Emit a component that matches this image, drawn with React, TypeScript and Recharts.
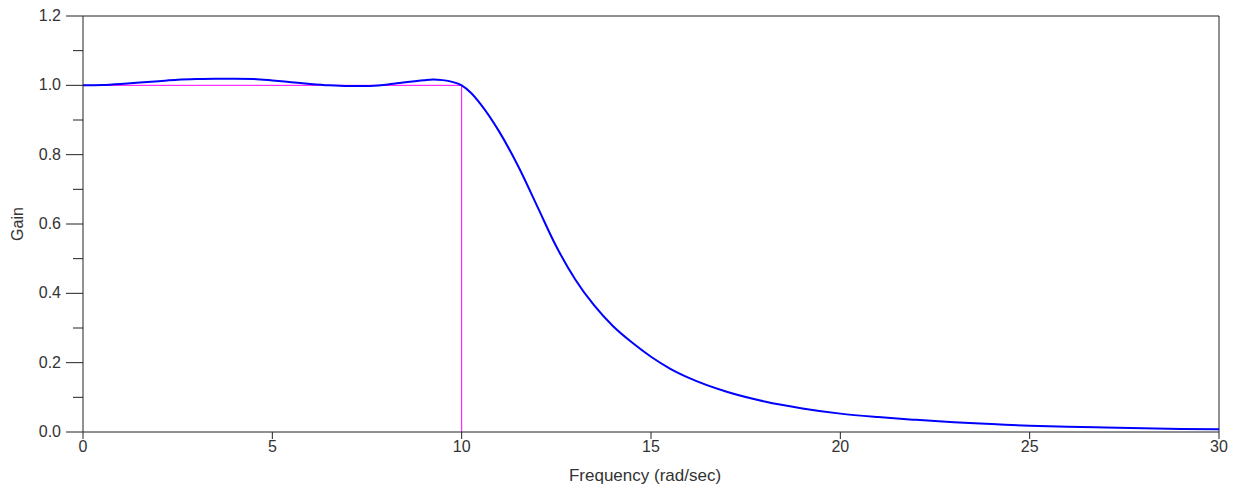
import { LineChart, Line, XAxis, YAxis, ReferenceLine } from 'recharts';

// frequency (rad/sec) and gain
const freq = [
  0, 0.5, 1, 1.5, 2, 2.5, 3, 3.5, 4, 4.5, 5, 5.5, 6, 6.5, 7, 7.5, 8, 8.5, 9, 9.25, 9.5, 9.75,
  10, 10.25, 10.5, 11, 11.5, 12, 12.5, 13, 13.5, 14, 14.5, 15, 15.5, 16, 17, 18, 19, 20,
  21, 22, 23, 24, 25, 26, 27, 28, 29, 30,
];
const gain = [
  1.0, 1.001, 1.004, 1.008, 1.012, 1.016, 1.018, 1.019, 1.019, 1.018, 1.014, 1.009,
  1.004, 1.0, 0.998, 0.998, 1.002, 1.009, 1.015, 1.017, 1.015, 1.01,
  1.0, 0.978, 0.946, 0.865, 0.765, 0.65, 0.535, 0.44, 0.365, 0.305, 0.258, 0.217, 0.183,
  0.156, 0.116, 0.088, 0.068, 0.053, 0.043, 0.035, 0.028, 0.023, 0.018, 0.015,
  0.013, 0.011, 0.009, 0.008,
];

// ideal cutoff marker
const idealFreq = [0, 10, 10];
const idealGain = [1, 1, 0];

const xTicks = [0, 5, 10, 15, 20, 25, 30];
const yTicks = [0, 0.1, 0.2, 0.3, 0.4, 0.5, 0.6, 0.7, 0.8, 0.9, 1.0, 1.1, 1.2];

const response = freq.map((f, i) => ({ f, g: gain[i] }));
const ideal = idealFreq.map((f, i) => ({ f, g: idealGain[i] }));

const font = '"Liberation Sans", Arial, sans-serif';

const YTick = (props: any) => {
  const { x, y, payload } = props;
  const v = payload.value as number;
  const major = Math.round(v * 10) % 2 === 0;
  return (
    <g>
      <line x1={x} x2={x - (major ? 17 : 10)} y1={y} y2={y} stroke="#222" />
      {major && (
        <text x={x - 22} y={y} dy={5} textAnchor="end" fill="#333" fontSize={16} fontFamily={font}>
          {v.toFixed(1)}
        </text>
      )}
    </g>
  );
};

export default function App() {
  return (
    <div style={{ position: 'absolute', left: 0, top: 0, background: '#fff' }}>
      <LineChart width={1236} height={486} data={response} margin={{ top: 16, right: 17, left: 0, bottom: 0 }}>
        <XAxis
          type="number"
          dataKey="f"
          domain={[0, 30]}
          ticks={xTicks}
          tickSize={7}
          height={54}
          stroke="#222"
          tick={{ fill: '#333', fontSize: 16, fontFamily: font }}
          label={{ value: 'Frequency (rad/sec)', position: 'insideBottom', offset: 5, dx: -6, fill: '#333', fontSize: 17, fontFamily: font }}
        />
        <YAxis
          type="number"
          domain={[0, 1.2]}
          ticks={yTicks}
          width={83}
          tickSize={0}
          tickMargin={0}
          tickLine={false}
          stroke="#222"
          tick={<YTick />}
          label={{ value: 'Gain', angle: -90, position: 'insideLeft', offset: 17, fill: '#333', fontSize: 16, fontFamily: font, style: { textAnchor: 'middle' } }}
        />
        <ReferenceLine y={1.2} stroke="#222" />
        <ReferenceLine x={30} stroke="#222" />
        <Line data={ideal} dataKey="g" stroke="#ff00ff" strokeWidth={1} dot={false} type="linear" isAnimationActive={false} />
        <Line dataKey="g" stroke="#0000ff" strokeWidth={2} dot={false} type="monotone" isAnimationActive={false} />
      </LineChart>
    </div>
  );
}
